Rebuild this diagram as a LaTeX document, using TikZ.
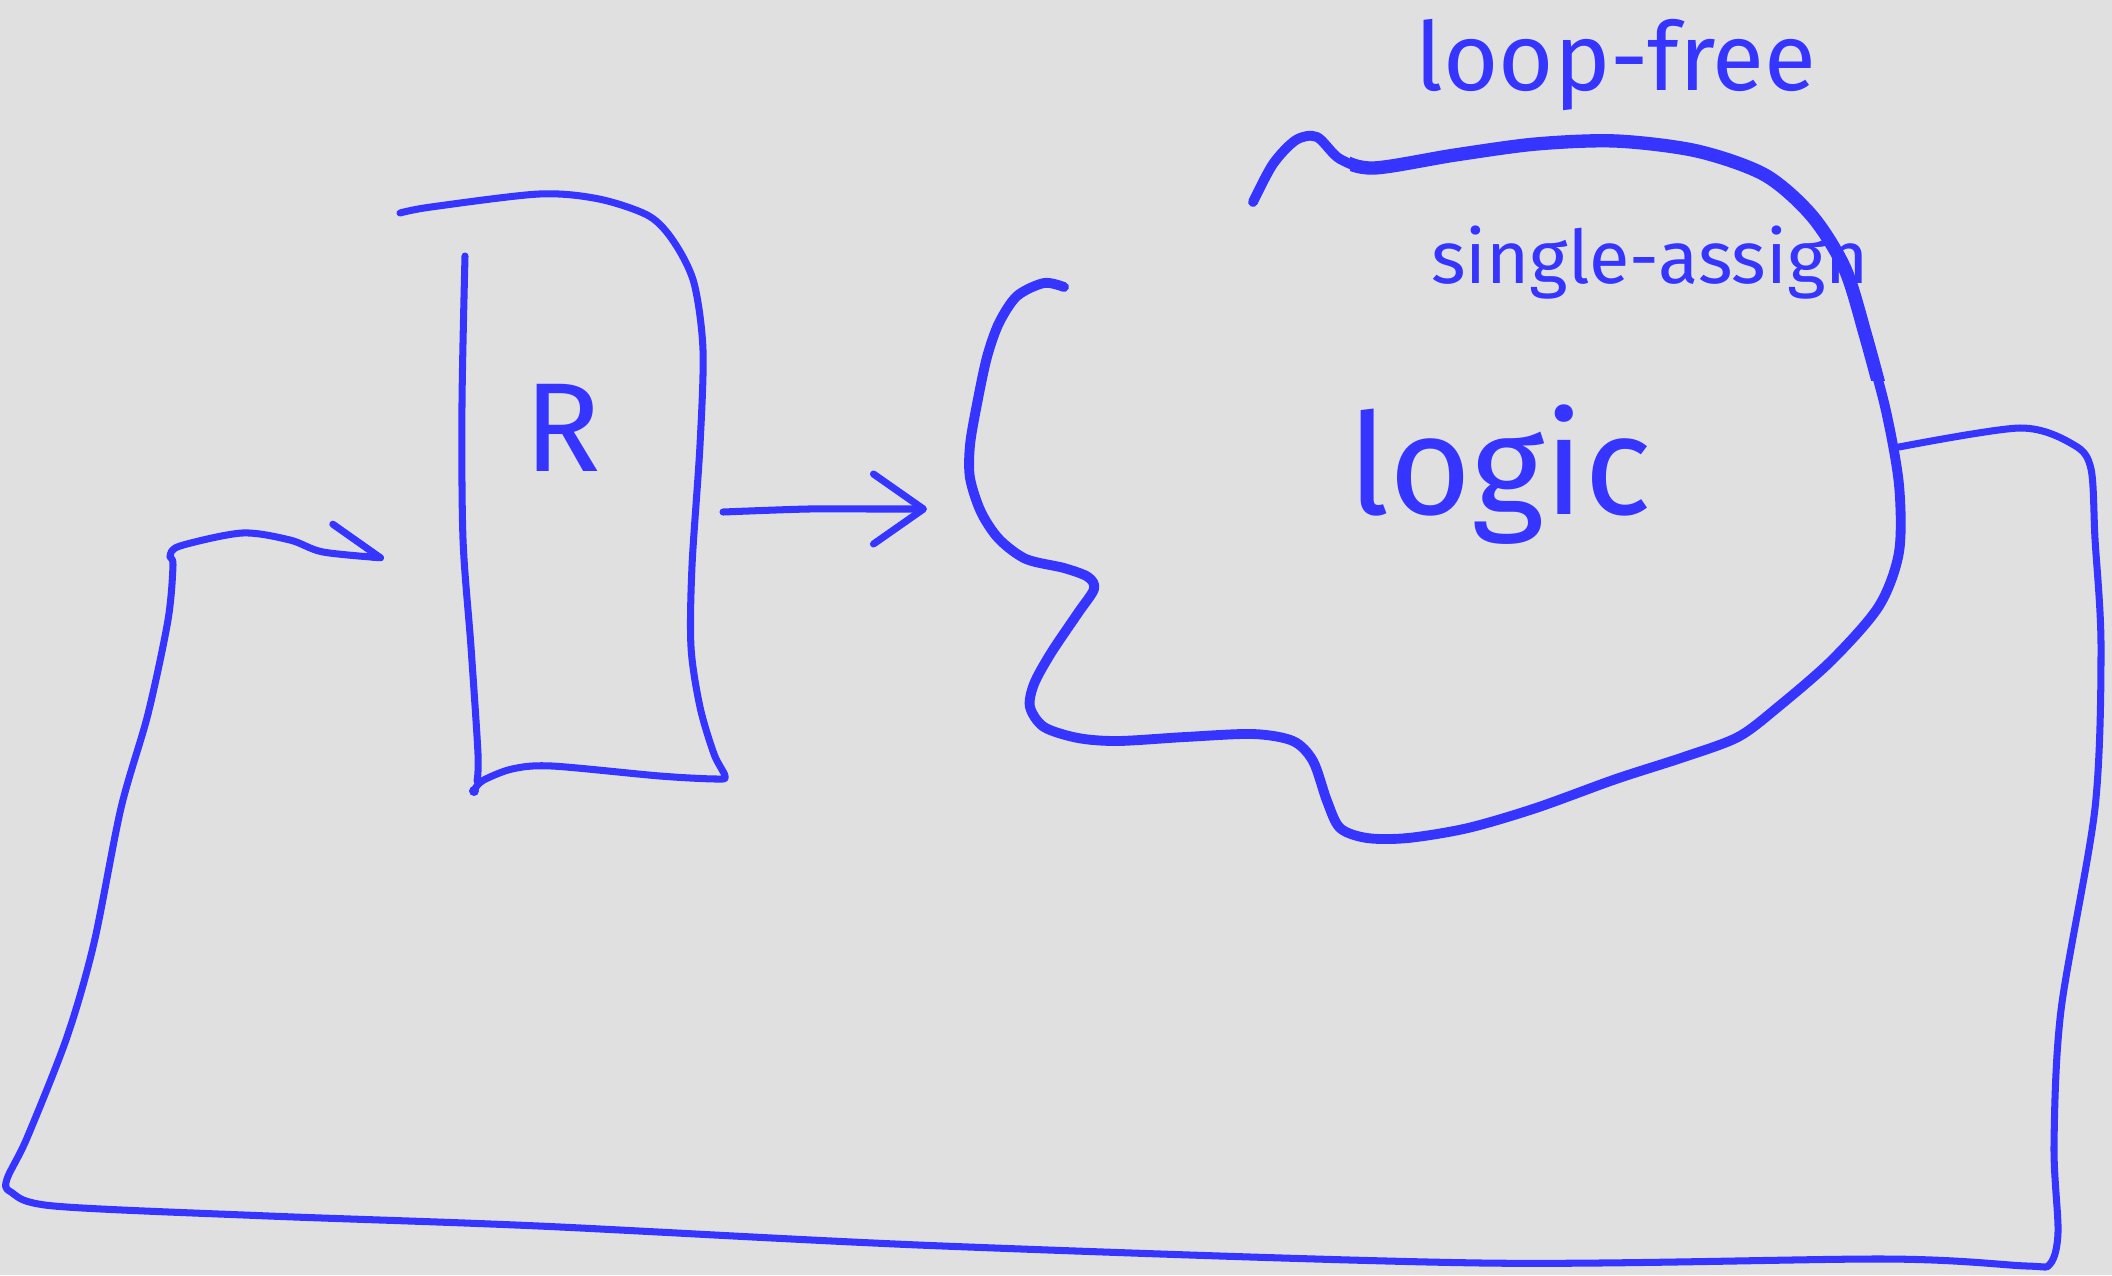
\documentclass[tikz,border=0pt]{standalone}
\usepackage{fontspec}
\setsansfont{Fira Sans}
\usetikzlibrary{arrows.meta}
\definecolor{ink}{HTML}{3535FF}
\definecolor{paper}{HTML}{E0E0E0}
\tikzset{
  pen/.style={draw=ink, line width=2pt, line cap=round, line join=round},
  fat pen/.style={pen, line width=2.8pt},
  scrawl/.style={text=ink, inner sep=0pt},
}
\begin{document}
\begin{tikzpicture}[x=0.01cm, y=-0.01cm]
  % Sheet.
  \fill[paper] (0,0) rectangle (2112,1275);
  \useasboundingbox (0,0) rectangle (2112,1275);
  % Register box.
  \draw[pen] plot[smooth, tension=0.5] coordinates {(400,213) (431,207) (539,194) (599,199)
    (649,216) (674,242) (694,283) (703,350) (700,445) (692,566) (691,647) (700,707)
    (714,754) (725,776) (717,779) (660,776) (552,766) (512,769) (482,781) (474,791)};
  \draw[pen] plot[smooth, tension=0.5] coordinates {(465,256) (462,404) (463,539)
    (471,647) (478,754) (477,781)};
  \fill[ink] (474,791) circle (5);
  \node[scrawl, font={\sffamily\fontsize{36pt}{40pt}\selectfont}] (reg) at (563,428) {R};
  % Logic cloud.
  \draw[fat pen] plot[smooth, tension=0.5] coordinates {(1064,287) (1044,283) (1017,296)
    (999,323) (987,357) (977,404) (970,445) (970,478) (981,512) (999,539) (1026,559)
    (1064,568) (1088,577) (1094,589) (1078,613) (1051,653) (1034,684) (1030,707)
    (1044,727) (1078,738) (1118,741) (1185,737) (1253,734) (1293,741) (1313,761)
    (1327,801) (1340,828) (1367,838) (1408,838) (1468,828) (1536,808) (1616,779)
    (1684,757) (1738,737) (1778,707) (1832,660) (1879,606) (1899,552) (1899,485)
    (1886,411) (1866,337) (1845,269) (1812,216) (1765,175) (1697,151) (1616,141)
    (1536,144) (1455,155) (1374,168) (1340,159) (1317,137) (1296,140) (1273,164)
    (1253,202)};
  % heavier stroke along the top
  \begin{scope}
    \clip (1350,0) rectangle (2000,380);
    \draw[fat pen, line width=3.8pt] plot[smooth, tension=0.5] coordinates {(1317,137)
      (1340,159) (1374,168) (1455,155) (1536,144) (1616,141) (1697,151) (1765,175)
      (1812,216) (1845,269) (1866,337) (1886,411)};
  \end{scope}
  \node[scrawl, font={\sffamily\fontsize{40pt}{44pt}\selectfont}] (logic) at (1500,475) {logic};
  \node[scrawl, font={\sffamily\fontsize{27pt}{30pt}\selectfont}] (loopfree) at (1616,65) {loop-free};
  \node[scrawl, font={\sffamily\fontsize{21pt}{25pt}\selectfont}] (assign) at (1650,263) {single-assign};
  % Connectors.
  \coordinate (reg out) at (723,512);
  \coordinate (logic in) at (927,509);
  \coordinate (logic out) at (1899,447);
  \coordinate (reg in) at (384,558);
  \draw[pen, -{Straight Barb[round, length=5mm, width=7mm]}] plot[smooth] coordinates {(reg out)
    (808,509) (876,509) (logic in)};
  \draw[pen, -{Straight Barb[harpoon, round, length=5mm, width=6mm]}] plot[smooth, tension=0.5]
    coordinates {(logic out) (2020,428) (2074,445) (2091,469) (2095,539) (2101,647)
    (2095,808) (2061,1010) (2054,1145) (2058,1232) (2050,1264) (2027,1266) (1886,1259)
    (1482,1263) (943,1246) (539,1226) (269,1216) (54,1206) (11,1192) (7,1179) (27,1138)
    (67,1037) (94,943) (121,808) (148,714) (168,620) (173,565) (170,556) (180,546)
    (242,533) (290,540) (323,552) (reg in)};
\end{tikzpicture}
\end{document}
